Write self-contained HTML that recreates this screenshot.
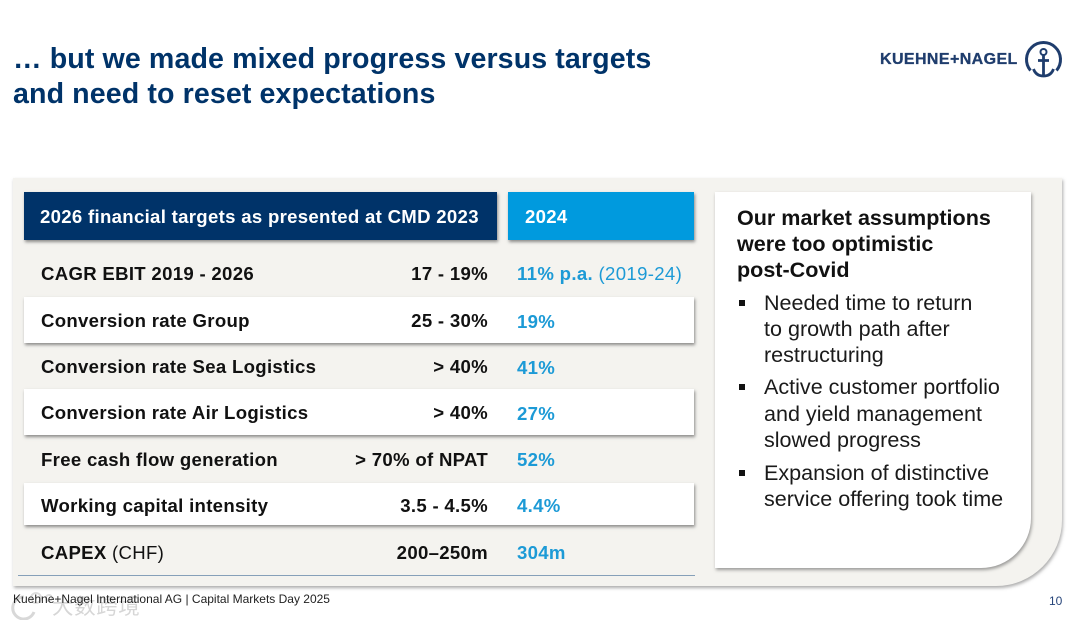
<!DOCTYPE html>
<html lang="en">
<head>
<meta charset="utf-8">
<title>Mixed progress versus targets</title>
<style>
html,body{margin:0;padding:0;background:#fff}
#slide{position:relative;width:1080px;height:627px;overflow:hidden;background:#fff;font-family:"Liberation Sans",sans-serif;color:#111}
#slide div{position:absolute;white-space:nowrap}
.title{left:13px;font-size:28.6px;font-weight:700;color:#003369;line-height:35px;letter-spacing:.1px}
.row{left:24px;width:670px;background:#fff;box-shadow:1px 2px 3px rgba(70,70,70,.6)}
.lbl,.tgt,.act{font-size:18.6px;font-weight:700;line-height:22px;letter-spacing:.3px}
.lbl{left:41px}
.tgt{right:592px;text-align:right}
.act{left:517px;color:#1c9ad6}
.reg{font-weight:400}
.card-h{font-size:21.55px;font-weight:700;left:737px;line-height:26px;color:#111}
.bl{font-size:21.55px;left:764px;line-height:26px;color:#1a1a1a}
.sq{left:739px;width:6px;height:6px;background:#111}
</style>
</head>
<body>
<div id="slide">
<div class="title" style="top:42px">… but we made mixed progress versus targets</div>
<div class="title" style="top:77px">and need to reset expectations</div>

<div style="left:880px;top:50px;font-size:16px;font-weight:700;color:#1f3d6d;line-height:20px;letter-spacing:.4px;-webkit-text-stroke:.3px #1f3d6d">KUEHNE+NAGEL</div>
<svg style="position:absolute;left:1022px;top:40px" width="42" height="40" viewBox="0 0 42 40">
<path d="M8.500 30.500A17 17 0 1 1 34.500 30.500" fill="none" stroke="#1f3d6d" stroke-width="3"/>
<circle cx="21.500" cy="12" r="3" fill="none" stroke="#1f3d6d" stroke-width="2"/>
<path d="M21.500 15V36M16 20.500H27M11.500 29Q14 36 21.500 36Q29 36 31.500 29" fill="none" stroke="#1f3d6d" stroke-width="2.800"/>
</svg>

<div style="left:13px;top:178px;width:1049px;height:408px;background:#f4f3ef;border-bottom-right-radius:66px;box-shadow:1px 2px 3px rgba(90,90,90,.5)"></div>

<div style="left:24px;top:192px;width:473px;height:48px;background:#003369;box-shadow:1px 2px 3px rgba(70,70,70,.6)"></div>
<div style="left:40px;top:206px;font-size:18.6px;font-weight:700;color:#fff;line-height:22px;letter-spacing:.3px">2026 financial targets as presented at CMD 2023</div>
<div style="left:508px;top:192px;width:186px;height:48px;background:#009ade;box-shadow:1px 2px 3px rgba(70,70,70,.6)"></div>
<div style="left:525px;top:206px;font-size:18.6px;font-weight:700;color:#fff;line-height:22px;letter-spacing:.3px">2024</div>

<div class="row" style="top:297px;height:46px"></div>
<div class="row" style="top:389px;height:46px"></div>
<div class="row" style="top:483px;height:42px"></div>

<div class="lbl" style="top:263px">CAGR EBIT 2019 - 2026</div>
<div class="tgt" style="top:263px">17 - 19%</div>
<div class="act" style="top:263px;letter-spacing:.33px">11% p.a. <span class="reg">(2019-24)</span></div>

<div class="lbl" style="top:310px">Conversion rate Group</div>
<div class="tgt" style="top:310px">25 - 30%</div>
<div class="act" style="top:311px">19%</div>

<div class="lbl" style="top:356px">Conversion rate Sea Logistics</div>
<div class="tgt" style="top:356px">&gt; 40%</div>
<div class="act" style="top:357px">41%</div>

<div class="lbl" style="top:402px">Conversion rate Air Logistics</div>
<div class="tgt" style="top:402px">&gt; 40%</div>
<div class="act" style="top:403px">27%</div>

<div class="lbl" style="top:449px">Free cash flow generation</div>
<div class="tgt" style="top:449px">&gt; 70% of NPAT</div>
<div class="act" style="top:449px">52%</div>

<div class="lbl" style="top:495px">Working capital intensity</div>
<div class="tgt" style="top:495px">3.5 - 4.5%</div>
<div class="act" style="top:495px">4.4%</div>

<div class="lbl" style="top:542px">CAPEX <span class="reg">(CHF)</span></div>
<div class="tgt" style="top:542px">200–250m</div>
<div class="act" style="top:542px">304m</div>

<div style="left:18px;top:575px;width:677px;height:1px;background:#86a0b9"></div>

<div style="left:715px;top:192px;width:316px;height:376px;background:#fff;border-bottom-right-radius:50px;box-shadow:1px 2px 3px rgba(80,80,80,.55)"></div>
<div class="card-h" style="top:205px">Our market assumptions</div>
<div class="card-h" style="top:231px">were too optimistic</div>
<div class="card-h" style="top:257px">post-Covid</div>

<div class="sq" style="top:300px"></div>
<div class="bl" style="top:290px">Needed time to return</div>
<div class="bl" style="top:316px">to growth path after</div>
<div class="bl" style="top:342px">restructuring</div>

<div class="sq" style="top:384px"></div>
<div class="bl" style="top:374px">Active customer portfolio</div>
<div class="bl" style="top:401px">and yield management</div>
<div class="bl" style="top:427px">slowed progress</div>

<div class="sq" style="top:470px"></div>
<div class="bl" style="top:460px">Expansion of distinctive</div>
<div class="bl" style="top:486px">service offering took time</div>

<div style="left:13px;top:592px;font-size:12px;line-height:14px;color:#222">Kuehne+Nagel International AG | Capital Markets Day 2025</div>
<div style="left:1049px;top:594px;font-size:12px;line-height:14px;color:#27457a">10</div>
<div style="left:52px;top:595px;font-size:21.5px;line-height:24px;color:#d6d6d6;letter-spacing:.6px;font-family:'Liberation Sans','Noto Sans CJK SC',sans-serif;mix-blend-mode:multiply">大数跨境</div>
<svg style="position:absolute;left:8px;top:592px;mix-blend-mode:multiply" width="44" height="28" viewBox="0 0 44 28">
<path d="M16 5A11 11 0 1 0 26 20" fill="none" stroke="#d8d8d8" stroke-width="3"/>
<circle cx="28" cy="6" r="5" fill="none" stroke="#dedede" stroke-width="2"/>
<circle cx="41" cy="6" r="3" fill="none" stroke="#dedede" stroke-width="2"/>
</svg>
</div>
</body>
</html>
